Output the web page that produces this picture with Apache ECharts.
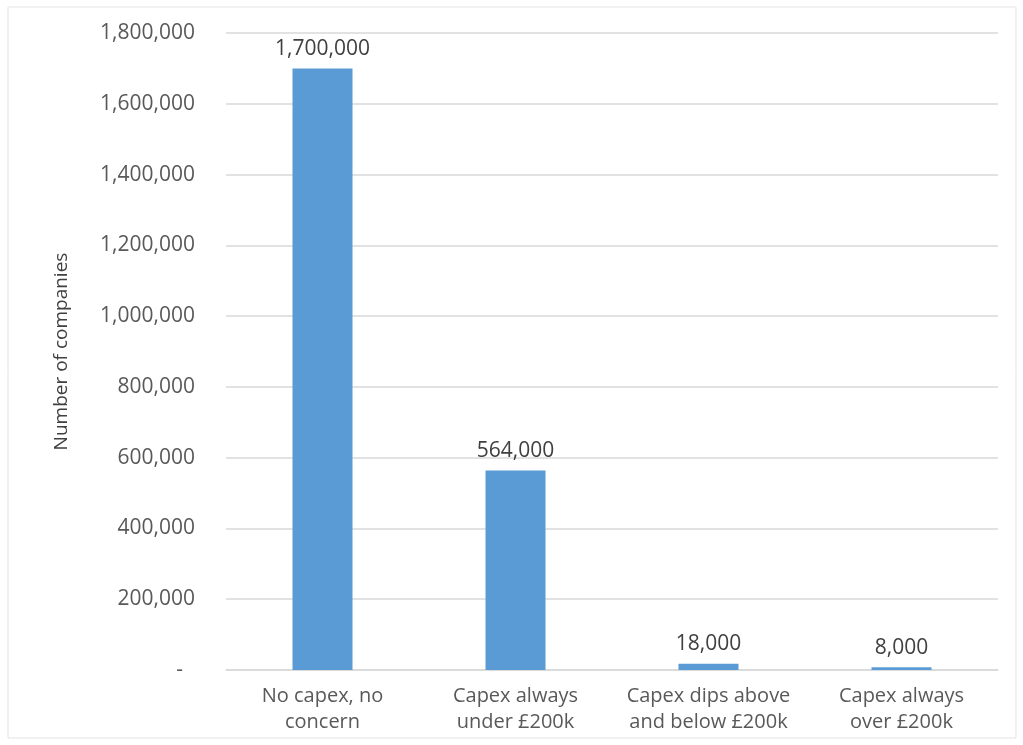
<!DOCTYPE html>
<html><head><meta charset="utf-8">
<script src="https://cdn.jsdelivr.net/npm/echarts@6/dist/echarts.min.js"></script>
<style>html,body{margin:0;padding:0;background:#fff}#c{width:1023px;height:745px}</style>
</head><body><div id="c"></div>
<script>
const categories = ["No capex, no\nconcern", "Capex always\nunder £200k", "Capex dips above\nand below £200k", "Capex always\nover £200k"];
const values = [1700000, 564000, 18000, 8000];
const yTicks = [0, 200000, 400000, 600000, 800000, 1000000, 1200000, 1400000, 1600000, 1800000];

const FONT = 'Open Sans, Liberation Sans, sans-serif';
const fmt = v => v === 0 ? '{z|-}' : v.toLocaleString('en-US');
const chart = echarts.init(document.getElementById('c'));
chart.setOption({
  animation: false,
  graphic: [{type:'rect', shape:{x:8, y:7, width:1008, height:731}, style:{fill:'none', stroke:'#e3e3e3', lineWidth:1}}],
  grid: {left: 226, right: 25, top: 33, bottom: 75},
  xAxis: {
    type: 'category', data: categories,
    axisTick: {show: false},
    axisLine: {lineStyle: {color: '#d9d9d9', width: 1.5}},
    axisLabel: {color: '#595959', fontSize: 20, fontFamily: FONT, lineHeight: 26, margin: 13, interval: 0}
  },
  yAxis: {
    type: 'value', min: 0, max: yTicks[yTicks.length-1], interval: 200000,
    name: 'Number of companies', nameLocation: 'middle', nameGap: 155, nameRotate: 90,
    nameTextStyle: {color: '#404040', fontSize: 19, fontFamily: FONT},
    axisLabel: {color: '#595959', fontSize: 21, fontFamily: FONT, margin: 31, formatter: fmt,
      rich: {z: {color: '#595959', fontSize: 21, fontFamily: FONT, padding: [0, 12, 0, 0]}}},
    splitLine: {lineStyle: {color: '#d9d9d9', width: 1.5}},
    axisLine: {show: false}, axisTick: {show: false}
  },
  series: [{
    type: 'bar', data: values, barWidth: 60,
    itemStyle: {color: '#5b9bd5'},
    label: {show: true, position: 'top', distance: 9, color: '#404040', fontSize: 21, fontFamily: FONT, formatter: p => p.value.toLocaleString('en-US')}
  }]
});
</script></body></html>
